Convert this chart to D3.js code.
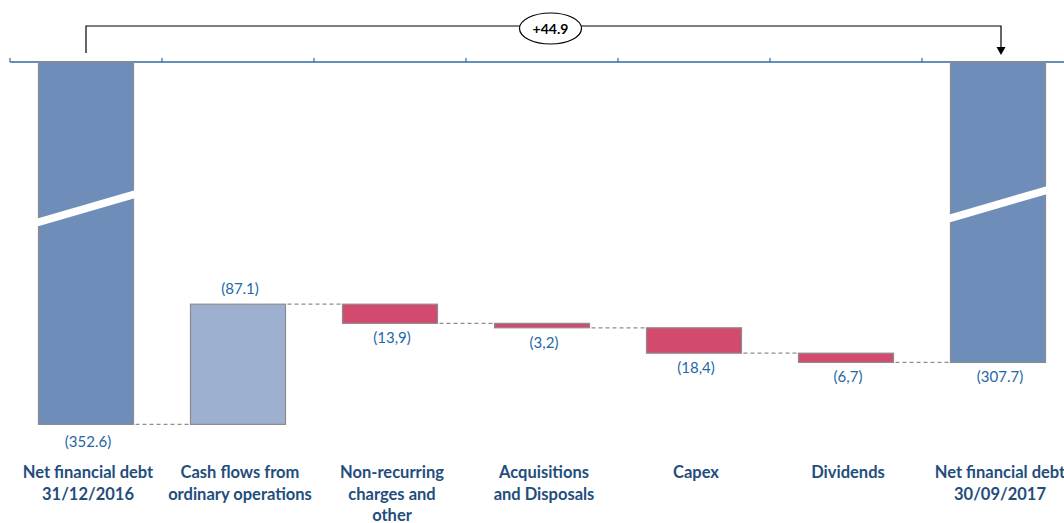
<!DOCTYPE html>
<html>
<head>
<meta charset="utf-8">
<script src="https://cdn.jsdelivr.net/npm/d3@7"></script>
<style>
  html, body { margin: 0; padding: 0; background: #fff; }
  svg { display: block; }
</style>
</head>
<body>
<svg id="chart" width="1064" height="523"></svg>
<script>
// ---- data ----
const categories = ["nfd2016", "cashflow", "nonrec", "acq", "capex", "div", "nfd2017"];
const categoryLabels = [
  ["Net financial debt", "31/12/2016"],
  ["Cash flows from", "ordinary operations"],
  ["Non-recurring", "charges and", "other"],
  ["Acquisitions", "and Disposals"],
  ["Capex"],
  ["Dividends"],
  ["Net financial debt", "30/09/2017"]
];
const kinds = ["total", "positive", "negative", "negative", "negative", "negative", "total"];
const values = [-352.6, 87.1, -13.9, -3.2, -18.4, -6.7, -307.7];
const valueLabels = ["(352.6)", "(87.1)", "(13,9)", "(3,2)", "(18,4)", "(6,7)", "(307.7)"];
const changeLabel = "+44.9";
const yDomain = [-90, -400];
const breakValue = -196;

// ---- layout ----
const svg = d3.select("#chart");
const x = d3.scaleBand().domain(categories).range([10, 1074]).paddingInner(0.375).paddingOuter(0.1875);
const y = d3.scaleLinear().domain(yDomain).range([62, 62 + 310 * 1.38]);
const colors = { total: "#6e8db9", positive: "#9db0cf", negative: "#d34a6f" };

// compute waterfall segments
let running = 0;
const segs = values.map((v, i) => {
  let top, bottom, end;
  if (kinds[i] === "total") {
    top = yDomain[0]; bottom = v; end = v; running = v;
  } else {
    const start = running;
    end = running + v;
    top = Math.max(start, end); bottom = Math.min(start, end);
    running = end;
  }
  return { cat: categories[i], kind: kinds[i], top, bottom, end, v, i };
});

// axis line along top
const axisY = y(yDomain[0]);
svg.append("line").attr("x1", 10).attr("x2", 1064).attr("y1", axisY).attr("y2", axisY)
  .attr("stroke", "#2f6aa3").attr("stroke-width", 1.5);
const step = x.step();
const ticks = categories.map(c => x(c) - step * x.paddingInner() / 2);
svg.selectAll("line.tick").data(ticks).enter().append("line").attr("class", "tick")
  .attr("x1", d => d).attr("x2", d => d).attr("y1", axisY - 4).attr("y2", axisY)
  .attr("stroke", "#2f6aa3").attr("stroke-width", 1.2);

// connectors
for (let i = 0; i < segs.length - 1; i++) {
  const yy = y(segs[i].end);
  svg.append("line")
    .attr("x1", x(categories[i]) + x.bandwidth() + 2).attr("x2", x(categories[i + 1]) - 1)
    .attr("y1", yy).attr("y2", yy)
    .attr("stroke", "#8f8f8f").attr("stroke-width", 1.2).attr("stroke-dasharray", "4,3");
}

// bars
svg.selectAll("rect.bar").data(segs).enter().append("rect").attr("class", "bar")
  .attr("x", d => x(d.cat))
  .attr("y", d => y(d.top))
  .attr("width", x.bandwidth())
  .attr("height", d => y(d.bottom) - y(d.top))
  .attr("fill", d => colors[d.kind])
  .attr("stroke", "#8c8c8c").attr("stroke-width", 1.2);

// breaks on total bars
segs.filter(d => d.kind === "total").forEach(d => {
  const x0 = x(d.cat) - 2, x1 = x(d.cat) + x.bandwidth() + 2;
  const cx = (x0 + x1) / 2, cy = y(breakValue) + (d.i === 0 ? 0 : -4);
  const slope = -0.29, half = 4;
  const yl = cy - slope * (cx - x0), yr = cy + slope * (x1 - cx);
  svg.append("polygon")
    .attr("points", [[x0, yl - half], [x1, yr - half], [x1, yr + half], [x0, yl + half]].map(p => p.join(",")).join(" "))
    .attr("fill", "#fff");
});

// value labels
svg.selectAll("text.val").data(segs).enter().append("text").attr("class", "val")
  .attr("x", d => x(d.cat) + x.bandwidth() / 2 + 2)
  .attr("y", d => d.kind === "positive" ? y(d.top) - 10 : y(d.bottom) + (d.i === 0 ? 23 : 20))
  .attr("text-anchor", "middle")
  .attr("font-family", "Lato, 'Open Sans', sans-serif")
  .attr("font-size", 15)
  .attr("fill", "#2467a8")
  .text((d, i) => valueLabels[i]);

// category labels
categories.forEach((c, i) => {
  const t = svg.append("text")
    .attr("x", x(c) + x.bandwidth() / 2 + 2)
    .attr("y", 478)
    .attr("text-anchor", "middle")
    .attr("font-family", "Lato, 'Open Sans', sans-serif")
    .attr("font-weight", "bold")
    .attr("font-size", 16.5)
    .attr("fill", "#1f4e7d");
  categoryLabels[i].forEach((line, j) => {
    t.append("tspan").attr("x", x(c) + x.bandwidth() / 2 + 2).attr("dy", j === 0 ? 0 : 21.5).text(line);
  });
});

// bracket with change label
const bx1 = x(categories[0]) + x.bandwidth() / 2;
const bx2 = x(categories[categories.length - 1]) + x.bandwidth() / 2 + 3;
const by = 26;
svg.append("path")
  .attr("d", `M${bx1},${axisY - 9}V${by}H${bx2}V${axisY - 14}`)
  .attr("fill", "none").attr("stroke", "#000").attr("stroke-width", 1.2);
svg.append("path")
  .attr("d", `M${bx2 - 4.5},${axisY - 15}L${bx2 + 4.5},${axisY - 15}L${bx2},${axisY - 7}Z`)
  .attr("fill", "#000");
const ecx = (bx1 + bx2) / 2 + 7;
svg.append("ellipse").attr("cx", ecx).attr("cy", 28.5).attr("rx", 31).attr("ry", 15.5)
  .attr("fill", "#fff").attr("stroke", "#000").attr("stroke-width", 1.2);
svg.append("text").attr("x", ecx).attr("y", 33.5)
  .attr("text-anchor", "middle")
  .attr("font-family", "Lato, 'Open Sans', sans-serif")
  .attr("font-weight", "bold").attr("font-size", 14)
  .attr("fill", "#000").text(changeLabel);
</script>
</body>
</html>
